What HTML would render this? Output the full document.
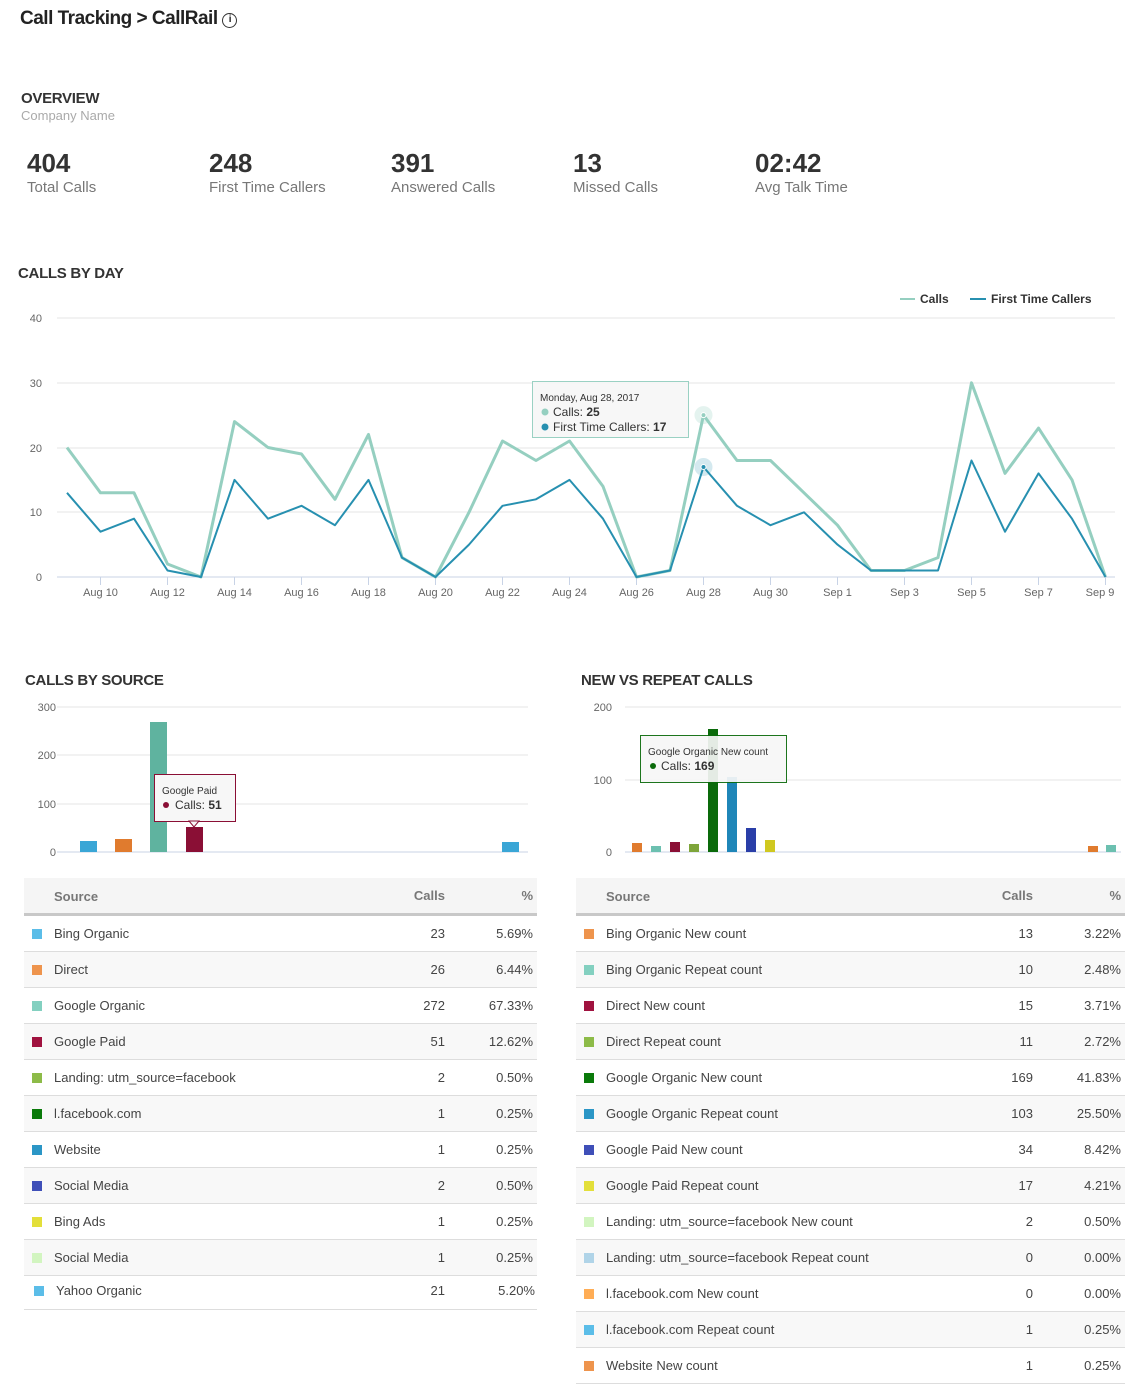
<!DOCTYPE html>
<html><head><meta charset="utf-8"><style>
*{margin:0;padding:0;box-sizing:border-box}
body{width:1138px;height:1380px;background:#fff;font-family:"Liberation Sans",sans-serif;color:#444;position:relative;overflow:hidden}
.a{position:absolute;white-space:nowrap}
.h{font-size:15px;font-weight:bold;color:#333;letter-spacing:-0.3px}
.num{font-size:26px;font-weight:bold;color:#333}
.lbl{font-size:15px;color:#777}
.tbl{position:absolute}
.hd{position:absolute;left:0;right:0;top:0;height:38px;background:#f5f5f5;border-bottom:3px solid #c8c8c8;font-size:13px;font-weight:bold;color:#777}
.row{position:absolute;left:0;right:0;height:36px;border-bottom:1px solid #ddd;font-size:13px;color:#444}
.row.o{background:#f8f8f8}
.row span{position:absolute;top:10px}
.sq{position:absolute;left:8px;top:13px;width:10px;height:10px}
</style></head><body>
<div class="a" style="left:20px;top:8px;font-size:19px;font-weight:bold;color:#222;letter-spacing:-0.5px">Call Tracking &gt; CallRail <span style="display:inline-block;width:15px;height:15px;border:1.5px solid #333;border-radius:50%;font-size:10px;text-align:center;line-height:12px;vertical-align:2px;font-weight:bold">i</span></div>
<div class="a h" style="left:21px;top:90px">OVERVIEW</div>
<div class="a" style="left:21px;top:108px;font-size:13px;color:#aaa">Company Name</div>
<div class="a num" style="left:27px;top:148px">404</div><div class="a lbl" style="left:27px;top:179px">Total Calls</div>
<div class="a num" style="left:209px;top:148px">248</div><div class="a lbl" style="left:209px;top:179px">First Time Callers</div>
<div class="a num" style="left:391px;top:148px">391</div><div class="a lbl" style="left:391px;top:179px">Answered Calls</div>
<div class="a num" style="left:573px;top:148px">13</div><div class="a lbl" style="left:573px;top:179px">Missed Calls</div>
<div class="a num" style="left:755px;top:148px">02:42</div><div class="a lbl" style="left:755px;top:179px">Avg Talk Time</div>
<div class="a h" style="left:18px;top:265px">CALLS BY DAY</div>

<svg class="a" style="left:0;top:0" width="1138" height="1380" font-family="Liberation Sans, sans-serif">
<g stroke="#e6e6e6" stroke-width="1">
<line x1="57" y1="318" x2="1115" y2="318"/><line x1="57" y1="383" x2="1115" y2="383"/><line x1="57" y1="448" x2="1115" y2="448"/><line x1="57" y1="512" x2="1115" y2="512"/>
</g>
<line x1="57" y1="577" x2="1115" y2="577" stroke="#c8d3e6"/>
<g stroke="#c8d3e6"><line x1="100.5" y1="577" x2="100.5" y2="585"/><line x1="167.5" y1="577" x2="167.5" y2="585"/><line x1="234.5" y1="577" x2="234.5" y2="585"/><line x1="301.5" y1="577" x2="301.5" y2="585"/><line x1="368.5" y1="577" x2="368.5" y2="585"/><line x1="435.5" y1="577" x2="435.5" y2="585"/><line x1="502.5" y1="577" x2="502.5" y2="585"/><line x1="569.5" y1="577" x2="569.5" y2="585"/><line x1="636.5" y1="577" x2="636.5" y2="585"/><line x1="703.5" y1="577" x2="703.5" y2="585"/><line x1="770.5" y1="577" x2="770.5" y2="585"/><line x1="837.5" y1="577" x2="837.5" y2="585"/><line x1="904.5" y1="577" x2="904.5" y2="585"/><line x1="971.5" y1="577" x2="971.5" y2="585"/><line x1="1038.5" y1="577" x2="1038.5" y2="585"/><line x1="1105.5" y1="577" x2="1105.5" y2="585"/></g>
<g font-size="11" fill="#666" text-anchor="end"><text x="42" y="322">40</text><text x="42" y="387">30</text><text x="42" y="452">20</text><text x="42" y="516">10</text><text x="42" y="581">0</text></g>
<g font-size="11" fill="#666" text-anchor="middle"><text x="100.5" y="596">Aug 10</text><text x="167.5" y="596">Aug 12</text><text x="234.5" y="596">Aug 14</text><text x="301.5" y="596">Aug 16</text><text x="368.5" y="596">Aug 18</text><text x="435.5" y="596">Aug 20</text><text x="502.5" y="596">Aug 22</text><text x="569.5" y="596">Aug 24</text><text x="636.5" y="596">Aug 26</text><text x="703.5" y="596">Aug 28</text><text x="770.5" y="596">Aug 30</text><text x="837.5" y="596">Sep 1</text><text x="904.5" y="596">Sep 3</text><text x="971.5" y="596">Sep 5</text><text x="1038.5" y="596">Sep 7</text><text x="1100" y="596">Sep 9</text></g>
<polyline fill="none" stroke="#95cfc0" stroke-width="3" stroke-linejoin="round" points="67,447.5 100.5,492.8 134,492.8 167.5,564 201,577 234.5,421.6 268,447.5 301.5,454 335,499.3 368.5,434.5 402,557.6 435.5,577 469,512.3 502.5,441 536,460.5 569.5,441 603,486.4 636.5,577 670,570.5 703.5,415.1 737,460.5 770.5,460.5 804,492.8 837.5,525.2 871,570.5 904.5,570.5 938,557.6 971.5,382.8 1005,473.4 1038.5,428.1 1072,479.9 1105.5,577"/>
<polyline fill="none" stroke="#2790b0" stroke-width="2" stroke-linejoin="round" points="67,492.8 100.5,531.7 134,518.7 167.5,570.5 201,577 234.5,479.9 268,518.7 301.5,505.8 335,525.2 368.5,479.9 402,557.6 435.5,577 469,544.6 502.5,505.8 536,499.3 569.5,479.9 603,518.7 636.5,577 670,570.5 703.5,467 737,505.8 770.5,525.2 804,512.3 837.5,544.6 871,570.5 904.5,570.5 938,570.5 971.5,460.5 1005,531.7 1038.5,473.4 1072,518.7 1105.5,577"/>
<circle cx="703.5" cy="415.1" r="9" fill="#95cfc0" opacity="0.25"/><circle cx="703.5" cy="415.1" r="2.5" fill="#95cfc0" stroke="#fff"/>
<circle cx="703.5" cy="467" r="9" fill="#2790b0" opacity="0.2"/><circle cx="703.5" cy="467" r="2.5" fill="#2790b0" stroke="#fff"/>
<line x1="900" y1="299" x2="915" y2="299" stroke="#95cfc0" stroke-width="2"/><text x="920" y="303" font-size="12" font-weight="bold" fill="#333">Calls</text>
<line x1="970" y1="299" x2="986" y2="299" stroke="#2790b0" stroke-width="2"/><text x="991" y="303" font-size="12" font-weight="bold" fill="#333">First Time Callers</text>
<rect x="532.5" y="381.5" width="156" height="56" fill="#f7f7f7" stroke="#95cfc0" opacity="0.95"/>
<text x="540" y="401" font-size="10" fill="#333">Monday, Aug 28, 2017</text>
<circle cx="545" cy="412" r="3.5" fill="#95cfc0"/><text x="553" y="416" font-size="12" fill="#333">Calls: <tspan font-weight="bold">25</tspan></text>
<circle cx="545" cy="427" r="3.5" fill="#2790b0"/><text x="553" y="431" font-size="12" fill="#333">First Time Callers: <tspan font-weight="bold">17</tspan></text>

<!-- left bar chart -->
<g stroke="#e6e6e6"><line x1="57" y1="707" x2="528" y2="707"/><line x1="57" y1="755" x2="528" y2="755"/><line x1="57" y1="804" x2="528" y2="804"/></g>
<line x1="57" y1="852" x2="528" y2="852" stroke="#c8d3e6"/>
<g font-size="11" fill="#666" text-anchor="end"><text x="56" y="711">300</text><text x="56" y="759">200</text><text x="56" y="808">100</text><text x="56" y="856">0</text></g>
<rect x="80" y="841" width="17" height="11" fill="#3aa6d6"/>
<rect x="115" y="839" width="17" height="13" fill="#e07b2e"/>
<rect x="150" y="722" width="17" height="130" fill="#5fb39f"/>
<rect x="186" y="827" width="17" height="25" fill="#8a0f35"/>
<rect x="502" y="842" width="17" height="10" fill="#3aa6d6"/>
<rect x="154.5" y="774.5" width="81" height="47" fill="#f7f7f7" stroke="#8a0f35"/>
<path d="M189,821 L194,827 L199,821 Z" fill="#f7f7f7" stroke="#8a0f35"/>
<text x="162" y="794" font-size="10" fill="#333">Google Paid</text>
<circle cx="166" cy="805" r="3" fill="#8a0f35"/><text x="175" y="809" font-size="12" fill="#333">Calls: <tspan font-weight="bold">51</tspan></text>

<!-- right bar chart -->
<g stroke="#e6e6e6"><line x1="625" y1="707" x2="1121" y2="707"/><line x1="625" y1="780" x2="1121" y2="780"/></g>
<line x1="625" y1="852" x2="1121" y2="852" stroke="#c8d3e6"/>
<g font-size="11" fill="#666" text-anchor="end"><text x="612" y="711">200</text><text x="612" y="784">100</text><text x="612" y="856">0</text></g>
<rect x="632" y="843" width="10" height="9" fill="#e07b2e"/>
<rect x="651" y="846" width="10" height="6" fill="#6cc0b0"/>
<rect x="670" y="842" width="10" height="10" fill="#8a0f35"/>
<rect x="689" y="844" width="10" height="8" fill="#7ea53a"/>
<rect x="708" y="729" width="10" height="123" fill="#0a6a0a"/>
<rect x="727" y="777" width="10" height="75" fill="#1f86b8"/>
<rect x="746" y="828" width="10" height="24" fill="#2a3ea8"/>
<rect x="765" y="840" width="10" height="12" fill="#d0c820"/>
<rect x="1088" y="846" width="10" height="6" fill="#e07b2e"/>
<rect x="1106" y="845" width="10" height="7" fill="#6cc0b0"/>
<rect x="640.5" y="735.5" width="146" height="47" fill="#f7f7f7" stroke="#0a6a0a" opacity="0.92"/>
<text x="648" y="755" font-size="10" fill="#333">Google Organic New count</text>
<circle cx="653" cy="766" r="3" fill="#0a6a0a"/><text x="661" y="770" font-size="12" fill="#333">Calls: <tspan font-weight="bold">169</tspan></text>
</svg>

<div class="a h" style="left:25px;top:672px">CALLS BY SOURCE</div>
<div class="a h" style="left:581px;top:672px">NEW VS REPEAT CALLS</div>

<div class="tbl" style="left:24px;top:878px;width:513px;height:432px">
<div class="hd"><span class="a" style="left:30px;top:11px">Source</span><span class="a" style="right:92px;top:10px">Calls</span><span class="a" style="right:4px;top:10px">%</span></div>
<div class="row" style="top:38px"><i class="sq" style="background:#5bbde8"></i><span style="left:30px">Bing Organic</span><span style="right:92px">23</span><span style="right:4px">5.69%</span></div>
<div class="row o" style="top:74px"><i class="sq" style="background:#ee944d"></i><span style="left:30px">Direct</span><span style="right:92px">26</span><span style="right:4px">6.44%</span></div>
<div class="row" style="top:110px"><i class="sq" style="background:#83d0c0"></i><span style="left:30px">Google Organic</span><span style="right:92px">272</span><span style="right:4px">67.33%</span></div>
<div class="row o" style="top:146px"><i class="sq" style="background:#a0123f"></i><span style="left:30px">Google Paid</span><span style="right:92px">51</span><span style="right:4px">12.62%</span></div>
<div class="row" style="top:182px"><i class="sq" style="background:#8dbb48"></i><span style="left:30px">Landing: utm_source=facebook</span><span style="right:92px">2</span><span style="right:4px">0.50%</span></div>
<div class="row o" style="top:218px"><i class="sq" style="background:#0a7a0a"></i><span style="left:30px">l.facebook.com</span><span style="right:92px">1</span><span style="right:4px">0.25%</span></div>
<div class="row" style="top:254px"><i class="sq" style="background:#2b96c6"></i><span style="left:30px">Website</span><span style="right:92px">1</span><span style="right:4px">0.25%</span></div>
<div class="row o" style="top:290px"><i class="sq" style="background:#3f4fb8"></i><span style="left:30px">Social Media</span><span style="right:92px">2</span><span style="right:4px">0.50%</span></div>
<div class="row" style="top:326px"><i class="sq" style="background:#e3df3a"></i><span style="left:30px">Bing Ads</span><span style="right:92px">1</span><span style="right:4px">0.25%</span></div>
<div class="row o" style="top:362px"><i class="sq" style="background:#d2f5c0"></i><span style="left:30px">Social Media</span><span style="right:92px">1</span><span style="right:4px">0.25%</span></div>
<div class="row" style="top:398px;height:34px"><i class="sq" style="background:#5bbde8;left:10px;top:10px"></i><span style="left:32px;top:7px">Yahoo Organic</span><span style="right:92px;top:7px">21</span><span style="right:2px;top:7px">5.20%</span></div>
</div>

<div class="tbl" style="left:576px;top:878px;width:549px;height:502px">
<div class="hd"><span class="a" style="left:30px;top:11px">Source</span><span class="a" style="right:92px;top:10px">Calls</span><span class="a" style="right:4px;top:10px">%</span></div>
<div class="row" style="top:38px"><i class="sq" style="background:#ee944d"></i><span style="left:30px">Bing Organic New count</span><span style="right:92px">13</span><span style="right:4px">3.22%</span></div>
<div class="row o" style="top:74px"><i class="sq" style="background:#83d0c0"></i><span style="left:30px">Bing Organic Repeat count</span><span style="right:92px">10</span><span style="right:4px">2.48%</span></div>
<div class="row" style="top:110px"><i class="sq" style="background:#a0123f"></i><span style="left:30px">Direct New count</span><span style="right:92px">15</span><span style="right:4px">3.71%</span></div>
<div class="row o" style="top:146px"><i class="sq" style="background:#8dbb48"></i><span style="left:30px">Direct Repeat count</span><span style="right:92px">11</span><span style="right:4px">2.72%</span></div>
<div class="row" style="top:182px"><i class="sq" style="background:#0a7a0a"></i><span style="left:30px">Google Organic New count</span><span style="right:92px">169</span><span style="right:4px">41.83%</span></div>
<div class="row o" style="top:218px"><i class="sq" style="background:#2b96c6"></i><span style="left:30px">Google Organic Repeat count</span><span style="right:92px">103</span><span style="right:4px">25.50%</span></div>
<div class="row" style="top:254px"><i class="sq" style="background:#3f4fb8"></i><span style="left:30px">Google Paid New count</span><span style="right:92px">34</span><span style="right:4px">8.42%</span></div>
<div class="row o" style="top:290px"><i class="sq" style="background:#e3df3a"></i><span style="left:30px">Google Paid Repeat count</span><span style="right:92px">17</span><span style="right:4px">4.21%</span></div>
<div class="row" style="top:326px"><i class="sq" style="background:#d2f5c0"></i><span style="left:30px">Landing: utm_source=facebook New count</span><span style="right:92px">2</span><span style="right:4px">0.50%</span></div>
<div class="row o" style="top:362px"><i class="sq" style="background:#b0d4e8"></i><span style="left:30px">Landing: utm_source=facebook Repeat count</span><span style="right:92px">0</span><span style="right:4px">0.00%</span></div>
<div class="row" style="top:398px"><i class="sq" style="background:#ffad55"></i><span style="left:30px">l.facebook.com New count</span><span style="right:92px">0</span><span style="right:4px">0.00%</span></div>
<div class="row o" style="top:434px"><i class="sq" style="background:#5bbde8"></i><span style="left:30px">l.facebook.com Repeat count</span><span style="right:92px">1</span><span style="right:4px">0.25%</span></div>
<div class="row" style="top:470px"><i class="sq" style="background:#ee944d"></i><span style="left:30px">Website New count</span><span style="right:92px">1</span><span style="right:4px">0.25%</span></div>
</div>
</body></html>
